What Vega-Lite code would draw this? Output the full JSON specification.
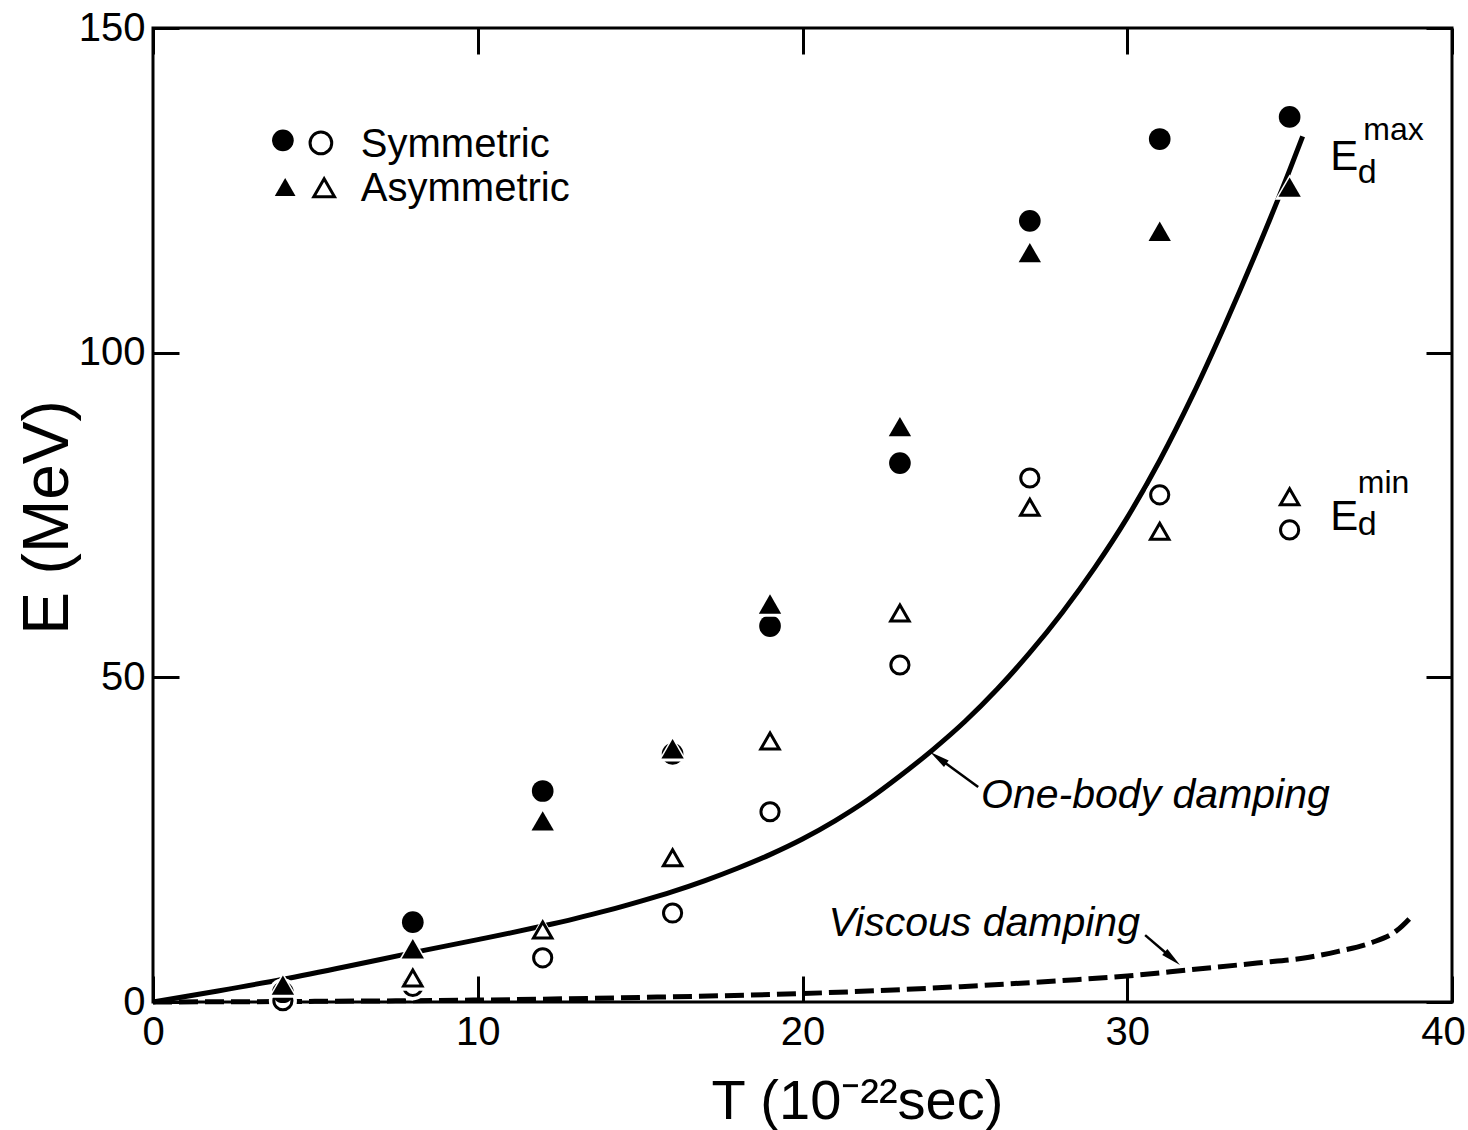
{
  "$schema": "https://vega.github.io/schema/vega-lite/v6.json",
  "width": 1299,
  "height": 974,
  "autosize": {"type": "none"},
  "padding": {"left": 153, "top": 28, "right": 16, "bottom": 128},
  "background": "white",
  "config": {
    "view": {"stroke": "black", "strokeWidth": 3},
    "font": "Liberation Sans",
    "text": {"font": "Liberation Sans", "color": "black"},
    "point": {"opacity": 1}
  },
  "datasets": {
    "pts": [
      {"T": 4, "E": 1.5, "kind": "Symmetric", "bound": "max"},
      {"T": 8, "E": 12.3, "kind": "Symmetric", "bound": "max"},
      {"T": 12, "E": 32.5, "kind": "Symmetric", "bound": "max"},
      {"T": 16, "E": 38.2, "kind": "Symmetric", "bound": "max"},
      {"T": 19, "E": 57.9, "kind": "Symmetric", "bound": "max"},
      {"T": 23, "E": 83.0, "kind": "Symmetric", "bound": "max"},
      {"T": 27, "E": 120.3, "kind": "Symmetric", "bound": "max"},
      {"T": 31, "E": 132.9, "kind": "Symmetric", "bound": "max"},
      {"T": 35, "E": 136.3, "kind": "Symmetric", "bound": "max"},
      {"T": 4, "E": 0.2, "kind": "Symmetric", "bound": "min"},
      {"T": 8, "E": 2.4, "kind": "Symmetric", "bound": "min"},
      {"T": 12, "E": 6.8, "kind": "Symmetric", "bound": "min"},
      {"T": 16, "E": 13.7, "kind": "Symmetric", "bound": "min"},
      {"T": 19, "E": 29.3, "kind": "Symmetric", "bound": "min"},
      {"T": 23, "E": 51.9, "kind": "Symmetric", "bound": "min"},
      {"T": 27, "E": 80.7, "kind": "Symmetric", "bound": "min"},
      {"T": 31, "E": 78.1, "kind": "Symmetric", "bound": "min"},
      {"T": 35, "E": 72.7, "kind": "Symmetric", "bound": "min"},
      {"T": 4, "E": 2.6, "kind": "Asymmetric", "bound": "max"},
      {"T": 8, "E": 8.2, "kind": "Asymmetric", "bound": "max"},
      {"T": 12, "E": 27.9, "kind": "Asymmetric", "bound": "max"},
      {"T": 16, "E": 39.0, "kind": "Asymmetric", "bound": "max"},
      {"T": 19, "E": 61.3, "kind": "Asymmetric", "bound": "max"},
      {"T": 23, "E": 88.6, "kind": "Asymmetric", "bound": "max"},
      {"T": 27, "E": 115.4, "kind": "Asymmetric", "bound": "max"},
      {"T": 31, "E": 118.7, "kind": "Asymmetric", "bound": "max"},
      {"T": 35, "E": 125.5, "kind": "Asymmetric", "bound": "max"},
      {"T": 8, "E": 3.7, "kind": "Asymmetric", "bound": "min"},
      {"T": 12, "E": 11.1, "kind": "Asymmetric", "bound": "min"},
      {"T": 16, "E": 22.2, "kind": "Asymmetric", "bound": "min"},
      {"T": 19, "E": 40.2, "kind": "Asymmetric", "bound": "min"},
      {"T": 23, "E": 59.9, "kind": "Asymmetric", "bound": "min"},
      {"T": 27, "E": 76.2, "kind": "Asymmetric", "bound": "min"},
      {"T": 31, "E": 72.5, "kind": "Asymmetric", "bound": "min"},
      {"T": 35, "E": 77.8, "kind": "Asymmetric", "bound": "min"}
    ],
    "onebody": [
      {"T": 0, "E": 0}, {"T": 2, "E": 1.7}, {"T": 4, "E": 3.5}, {"T": 6, "E": 5.5},
      {"T": 8, "E": 7.6}, {"T": 10, "E": 9.6}, {"T": 12, "E": 11.7}, {"T": 13, "E": 12.85},
      {"T": 14, "E": 14.1}, {"T": 15, "E": 15.5}, {"T": 16, "E": 17.0}, {"T": 17, "E": 18.7},
      {"T": 18, "E": 20.6}, {"T": 19, "E": 22.7}, {"T": 20, "E": 25.1}, {"T": 21, "E": 27.9},
      {"T": 22, "E": 31.1}, {"T": 23, "E": 34.8}, {"T": 24, "E": 38.8}, {"T": 25, "E": 43.2},
      {"T": 26, "E": 48.2}, {"T": 27, "E": 53.8}, {"T": 28, "E": 60.0}, {"T": 29, "E": 66.9},
      {"T": 30, "E": 74.6}, {"T": 31, "E": 83.4}, {"T": 32, "E": 93.3}, {"T": 33, "E": 104.2},
      {"T": 34, "E": 115.8}, {"T": 35, "E": 128.1}, {"T": 35.4, "E": 133.3}
    ],
    "viscous": [
      {"T": 0, "E": 0}, {"T": 5, "E": 0.1}, {"T": 10, "E": 0.3}, {"T": 15, "E": 0.7},
      {"T": 20, "E": 1.3}, {"T": 25, "E": 2.4}, {"T": 28, "E": 3.3}, {"T": 30, "E": 4.0},
      {"T": 32, "E": 5.0}, {"T": 34, "E": 6.0}, {"T": 35.6, "E": 6.9}, {"T": 36.5, "E": 7.8},
      {"T": 37.5, "E": 9.1}, {"T": 38.3, "E": 11.0}, {"T": 38.8, "E": 13.4}
    ],
    "legendPts": [
      {"T": 4.0, "E": 132.7, "kind": "Symmetric", "bound": "max"},
      {"T": 5.17, "E": 132.3, "kind": "Symmetric", "bound": "min"},
      {"T": 4.07, "E": 125.5, "kind": "Asymmetric", "bound": "max"},
      {"T": 5.27, "E": 125.4, "kind": "Asymmetric", "bound": "min"}
    ],
    "legendText": [
      {"T": 6.4, "E": 130.2, "text": "Symmetric"},
      {"T": 6.4, "E": 123.3, "text": "Asymmetric"}
    ],
    "notes": [
      {"T": 25.5, "E": 29.9, "text": "One-body damping"},
      {"T": 20.8, "E": 10.2, "text": "Viscous damping"}
    ],
    "arrowShafts": [
      {"T": 25.41, "E": 33.11, "T2": 24.18, "E2": 37.6, "which": "One-body damping"},
      {"T": 30.55, "E": 10.3, "T2": 31.39, "E2": 6.7, "which": "Viscous damping"}
    ],
    "headOneBody": [{"T": 24.18, "E": 37.6}],
    "headViscous": [{"T": 31.39, "E": 6.7}],
    "bigE": [
      {"T": 36.25, "E": 128.1, "text": "E"},
      {"T": 36.25, "E": 72.7, "text": "E"}
    ],
    "subD": [
      {"T": 37.1, "E": 126.1, "text": "d"},
      {"T": 37.1, "E": 71.9, "text": "d"}
    ],
    "supLabel": [
      {"T": 37.27, "E": 132.8, "text": "max"},
      {"T": 37.1, "E": 78.4, "text": "min"}
    ]
  },
  "layer": [
    {
      "data": {"name": "onebody"},
      "mark": {"type": "line", "color": "black", "strokeWidth": 5, "interpolate": "monotone"},
      "encoding": {
        "x": {
          "field": "T", "type": "quantitative",
          "scale": {"domain": [0, 40], "nice": false},
          "axis": {
            "orient": "bottom", "values": [0, 10, 20, 30, 40], "format": "d",
            "domain": false, "grid": false, "ticks": true, "tickSize": -26, "tickWidth": 3, "tickColor": "black",
            "labelFontSize": 40, "labelColor": "black", "labelFont": "Liberation Sans", "labelPadding": 36, "labelFlush": false,
            "labelOffset": {"condition": {"test": "datum.value === 40", "value": -9}, "value": 0},
            "title": "T (10⁻²²sec)", "titleFontSize": 56, "titleFontWeight": "normal", "titleFont": "Liberation Sans",
            "titleColor": "black", "titleX": 704, "titleY": 116, "titleBaseline": "alphabetic", "titleAlign": "center"
          }
        },
        "y": {
          "field": "E", "type": "quantitative",
          "scale": {"domain": [0, 150], "nice": false},
          "axis": {
            "orient": "left", "values": [0, 50, 100, 150], "format": "d",
            "domain": false, "grid": false, "ticks": true, "tickSize": -26, "tickWidth": 3, "tickColor": "black",
            "labelFontSize": 40, "labelColor": "black", "labelFont": "Liberation Sans", "labelPadding": 34, "labelFlush": false,
            "title": "E (MeV)", "titleFontSize": 64, "titleFontWeight": "normal", "titleFont": "Liberation Sans",
            "titleColor": "black", "titleX": -86, "titleY": 489, "titleBaseline": "alphabetic", "titleAlign": "center", "titleAngle": -90
          }
        }
      }
    },
    {
      "data": {"name": "viscous"},
      "mark": {"type": "line", "color": "black", "strokeWidth": 5, "strokeDash": [19, 7], "interpolate": "monotone"},
      "encoding": {
        "x": {"field": "T", "type": "quantitative", "axis": null},
        "y": {"field": "E", "type": "quantitative", "axis": null}
      }
    },
    {
      "data": {"name": "pts"},
      "transform": [{"filter": "datum.kind === 'Symmetric'"}],
      "mark": {"type": "point", "filled": true, "fill": "white", "strokeWidth": 0, "size": 790, "shape": "circle", "opacity": 1},
      "encoding": {
        "x": {
          "field": "T", "type": "quantitative",
          "axis": {"orient": "top", "values": [0, 10, 20, 30, 40], "labels": false, "title": null, "domain": false, "grid": false,
                   "tickSize": -26, "tickWidth": 3, "tickColor": "black"}
        },
        "y": {
          "field": "E", "type": "quantitative",
          "axis": {"orient": "right", "values": [0, 50, 100, 150], "labels": false, "title": null, "domain": false, "grid": false,
                   "tickSize": -26, "tickWidth": 3, "tickColor": "black"}
        }
      }
    },
    {
      "data": {"name": "pts"},
      "transform": [{"filter": "datum.kind === 'Symmetric' && datum.bound === 'max'"}],
      "mark": {"type": "point", "filled": true, "fill": "black", "strokeWidth": 0, "size": 470, "shape": "circle", "opacity": 1},
      "encoding": {
        "x": {"field": "T", "type": "quantitative", "axis": null},
        "y": {"field": "E", "type": "quantitative", "axis": null}
      }
    },
    {
      "data": {"name": "pts"},
      "transform": [{"filter": "datum.kind === 'Symmetric' && datum.bound === 'min'"}],
      "mark": {"type": "point", "filled": false, "stroke": "black", "strokeWidth": 3, "size": 330, "shape": "circle", "opacity": 1},
      "encoding": {
        "x": {"field": "T", "type": "quantitative", "axis": null},
        "y": {"field": "E", "type": "quantitative", "axis": null}
      }
    },
    {
      "data": {"name": "pts"},
      "transform": [{"filter": "datum.kind === 'Asymmetric'"}],
      "mark": {"type": "point", "filled": true, "fill": "white", "strokeWidth": 0, "size": 860, "shape": "triangle-up", "opacity": 1},
      "encoding": {
        "x": {"field": "T", "type": "quantitative", "axis": null},
        "y": {"field": "E", "type": "quantitative", "axis": null}
      }
    },
    {
      "data": {"name": "pts"},
      "transform": [{"filter": "datum.kind === 'Asymmetric' && datum.bound === 'max'"}],
      "mark": {"type": "point", "filled": true, "fill": "black", "strokeWidth": 0, "size": 500, "shape": "triangle-up", "opacity": 1},
      "encoding": {
        "x": {"field": "T", "type": "quantitative", "axis": null},
        "y": {"field": "E", "type": "quantitative", "axis": null}
      }
    },
    {
      "data": {"name": "pts"},
      "transform": [{"filter": "datum.kind === 'Asymmetric' && datum.bound === 'min'"}],
      "mark": {"type": "point", "filled": false, "stroke": "black", "strokeWidth": 3, "size": 340, "shape": "triangle-up", "strokeJoin": "miter", "opacity": 1},
      "encoding": {
        "x": {"field": "T", "type": "quantitative", "axis": null},
        "y": {"field": "E", "type": "quantitative", "axis": null}
      }
    },
    {
      "data": {"name": "legendPts"},
      "transform": [{"filter": "datum.bound === 'max'"}],
      "mark": {"type": "point", "filled": true, "fill": "black", "strokeWidth": 0, "opacity": 1},
      "encoding": {
        "x": {"field": "T", "type": "quantitative", "axis": null},
        "y": {"field": "E", "type": "quantitative", "axis": null},
        "shape": {"field": "kind", "type": "nominal", "scale": {"domain": ["Symmetric", "Asymmetric"], "range": ["circle", "triangle-up"]}, "legend": null},
        "size": {"field": "kind", "type": "nominal", "scale": {"domain": ["Symmetric", "Asymmetric"], "range": [470, 430]}, "legend": null}
      }
    },
    {
      "data": {"name": "legendPts"},
      "transform": [{"filter": "datum.bound === 'min'"}],
      "mark": {"type": "point", "filled": false, "stroke": "black", "strokeWidth": 3, "opacity": 1},
      "encoding": {
        "x": {"field": "T", "type": "quantitative", "axis": null},
        "y": {"field": "E", "type": "quantitative", "axis": null},
        "shape": {"field": "kind", "type": "nominal", "scale": {"domain": ["Symmetric", "Asymmetric"], "range": ["circle", "triangle-up"]}, "legend": null},
        "size": {"field": "kind", "type": "nominal", "scale": {"domain": ["Symmetric", "Asymmetric"], "range": [240, 250]}, "legend": null}
      }
    },
    {
      "data": {"name": "legendText"},
      "mark": {"type": "text", "align": "left", "baseline": "alphabetic", "fontSize": 40, "font": "Liberation Sans", "color": "black"},
      "encoding": {
        "x": {"field": "T", "type": "quantitative", "axis": null},
        "y": {"field": "E", "type": "quantitative", "axis": null},
        "text": {"field": "text"}
      }
    },
    {
      "data": {"name": "notes"},
      "mark": {"type": "text", "align": "left", "baseline": "alphabetic", "fontSize": 41, "fontStyle": "italic", "font": "Liberation Sans", "color": "black"},
      "encoding": {
        "x": {"field": "T", "type": "quantitative", "axis": null},
        "y": {"field": "E", "type": "quantitative", "axis": null},
        "text": {"field": "text"}
      }
    },
    {
      "data": {"name": "arrowShafts"},
      "mark": {"type": "rule", "color": "black", "strokeWidth": 2.5},
      "encoding": {
        "x": {"field": "T", "type": "quantitative", "axis": null},
        "y": {"field": "E", "type": "quantitative", "axis": null},
        "x2": {"field": "T2"},
        "y2": {"field": "E2"}
      }
    },
    {
      "data": {"name": "headOneBody"},
      "mark": {"type": "point", "shape": "M0,-1L-0.4,1L0.4,1Z", "filled": true, "fill": "black", "strokeWidth": 0, "size": 400, "angle": 306, "opacity": 1},
      "encoding": {
        "x": {"field": "T", "type": "quantitative", "axis": null},
        "y": {"field": "E", "type": "quantitative", "axis": null}
      }
    },
    {
      "data": {"name": "headViscous"},
      "mark": {"type": "point", "shape": "M0,-1L-0.4,1L0.4,1Z", "filled": true, "fill": "black", "strokeWidth": 0, "size": 400, "angle": 130.6, "opacity": 1},
      "encoding": {
        "x": {"field": "T", "type": "quantitative", "axis": null},
        "y": {"field": "E", "type": "quantitative", "axis": null}
      }
    },
    {
      "data": {"name": "bigE"},
      "mark": {"type": "text", "align": "left", "baseline": "alphabetic", "fontSize": 42, "font": "Liberation Sans", "color": "black"},
      "encoding": {
        "x": {"field": "T", "type": "quantitative", "axis": null},
        "y": {"field": "E", "type": "quantitative", "axis": null},
        "text": {"field": "text"}
      }
    },
    {
      "data": {"name": "subD"},
      "mark": {"type": "text", "align": "left", "baseline": "alphabetic", "fontSize": 34, "font": "Liberation Sans", "color": "black"},
      "encoding": {
        "x": {"field": "T", "type": "quantitative", "axis": null},
        "y": {"field": "E", "type": "quantitative", "axis": null},
        "text": {"field": "text"}
      }
    },
    {
      "data": {"name": "supLabel"},
      "mark": {"type": "text", "align": "left", "baseline": "alphabetic", "fontSize": 32, "font": "Liberation Sans", "color": "black"},
      "encoding": {
        "x": {"field": "T", "type": "quantitative", "axis": null},
        "y": {"field": "E", "type": "quantitative", "axis": null},
        "text": {"field": "text"}
      }
    }
  ],
  "resolve": {"axis": {"x": "independent", "y": "independent"}}
}
